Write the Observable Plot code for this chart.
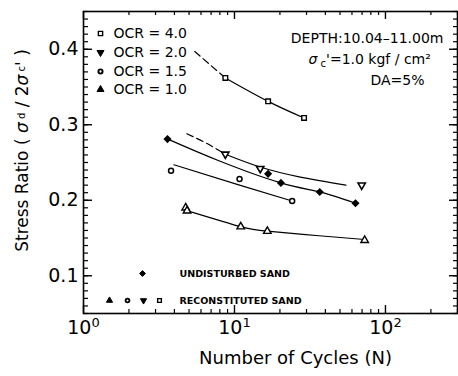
<!DOCTYPE html>
<html><head><meta charset="utf-8">
<script src="https://cdn.jsdelivr.net/npm/d3@7"></script>
<script src="https://cdn.jsdelivr.net/npm/@observablehq/plot@0.6"></script>
<style>body{margin:0;background:#fff}</style>
</head><body><div id="chart"></div>
<script>
// ---------- data ----------
const xTickValues = [1, 10, 100];
const xTickLabels = ["10^0", "10^1", "10^2"];
const yTickValues = [0.1, 0.2, 0.3, 0.4];
const yTickLabels = ["0.1", "0.2", "0.3", "0.4"];

// measured points (Number of cycles N, stress ratio SR)
const ocr40N = [8.7, 16.7, 28.9];
const ocr40SR = [0.362, 0.331, 0.309];
const ocr20N = [8.7, 14.8, 69.6];
const ocr20SR = [0.261, 0.242, 0.220];
const ocr15N = [3.8, 10.8, 24.1];
const ocr15SR = [0.239, 0.228, 0.199];
const ocr10N = [4.75, 4.85, 11.0, 16.5, 72.8];
const ocr10SR = [0.190, 0.186, 0.165, 0.159, 0.147];
const undistN = [3.6, 16.7, 20.3, 36.7, 63.3];
const undistSR = [0.281, 0.235, 0.223, 0.211, 0.196];

// fitted curves
const fit40DashN = [5.46, 6.84, 8.7];
const fit40DashSR = [0.397, 0.380, 0.362];
const fit40N = [8.7, 16.7, 28.9];
const fit40SR = [0.362, 0.331, 0.309];
const fit20DashN = [4.83, 6.45, 8.7];
const fit20DashSR = [0.288, 0.276, 0.261];
const fit20N = [8.7, 14.8, 26.8, 54.7];
const fit20SR = [0.261, 0.244, 0.231, 0.220];
const fitUndN = [3.62, 7.96, 20.3, 36.7, 63.3];
const fitUndSR = [0.281, 0.252, 0.223, 0.211, 0.196];
const fit15N = [3.97, 10.8, 24.1];
const fit15SR = [0.247, 0.220, 0.199];
const fit10N = [4.9, 11.0, 16.5, 36.3, 72.8];
const fit10SR = [0.186, 0.165, 0.159, 0.153, 0.148];

const legendLabels = ["OCR = 4.0", "OCR = 2.0", "OCR = 1.5", "OCR = 1.0"];
const bottomLegend = ["UNDISTURBED SAND", "RECONSTITUTED SAND"];
const annot = ["DEPTH:10.04–11.00m", "σc'=1.0 kgf / cm²", "DA=5%"];
const xLabel = "Number of Cycles (N)";
const yLabel = "Stress Ratio (σd/2σc')";

// ---------- helpers ----------
const pts = (N, SR) => N.map((n, i) => ({N: n, SR: SR[i]}));
const FONT = "DejaVu Sans";
const W = 458, H = 376, mL = 83, mR = 1, mT = 11, mB = 63;
const ih = H - mT - mB, iw = W - mL - mR;

const triDown = {draw(context, size) {
  const s3 = Math.sqrt(3);
  const y = -Math.sqrt(size / (s3 * 3));
  context.moveTo(0, -y * 2);
  context.lineTo(-s3 * y, y);
  context.lineTo(s3 * y, y);
  context.closePath();
}};

const xMinor = [];
for (const d of [1, 10, 100]) for (let k = 2; k <= 9; k++) if (k * d <= 300) xMinor.push(k * d);
const yMinor = d3.range(5, 46).map(i => i / 100);

const lineOpts = {x: "N", y: "SR", curve: "natural", stroke: "black", strokeWidth: 1.2};
const dotOpen = {x: "N", y: "SR", stroke: "black", fill: "white", strokeWidth: 1.4};

// legend rows (top-left)
const legendSymbols = [
  {symbol: "square", fill: "white", r: 2.4, sw: 1.4},
  {symbol: triDown, fill: "black", r: 2.6, sw: 1},
  {symbol: "circle", fill: "white", r: 2.1, sw: 1.9},
  {symbol: "triangle", fill: "black", r: 2.6, sw: 1}
];
const legendDy = [22, 41, 60, 78];
const legendMarks = legendLabels.flatMap((lab, i) => [
  Plot.dot([lab], {frameAnchor: "top-left", dx: 17, dy: legendDy[i], symbol: legendSymbols[i].symbol,
    r: legendSymbols[i].r, fill: legendSymbols[i].fill, stroke: "black", strokeWidth: legendSymbols[i].sw}),
  Plot.text([lab], {frameAnchor: "top-left", dx: 30, dy: legendDy[i], text: d => d, textAnchor: "start",
    lineAnchor: "middle", fontSize: 14, fontFamily: FONT, fill: "black"})
]);

// bottom legend
const bl = [
  {dx: 59, dy: -40, symbol: "diamond2", fill: "black", r: 2.6, sw: 1},
  {dx: 26, dy: -13, symbol: "triangle", fill: "black", r: 2.3, sw: 1},
  {dx: 44, dy: -13, symbol: "circle", fill: "white", r: 1.9, sw: 1.8},
  {dx: 60, dy: -13, symbol: triDown, fill: "black", r: 2.3, sw: 1},
  {dx: 76, dy: -13, symbol: "square", fill: "white", r: 2.1, sw: 1.4}
];
const bottomLegendMarks = [
  ...bl.map(s => Plot.dot([0], {frameAnchor: "bottom-left", dx: s.dx, dy: s.dy, symbol: s.symbol, r: s.r,
    fill: s.fill, stroke: "black", strokeWidth: s.sw})),
  ...bottomLegend.map((t, i) => Plot.text([t], {frameAnchor: "bottom-left", dx: 96, dy: i === 0 ? -40 : -13,
    text: d => d, textAnchor: "start", lineAnchor: "middle", fontSize: 9.5, fontWeight: "bold", fontFamily: FONT}))
];

const chart = Plot.plot({
  width: W, height: H,
  marginLeft: mL, marginRight: mR, marginTop: mT, marginBottom: mB,
  style: {fontFamily: FONT, background: "white", color: "black"},
  x: {type: "log", domain: [1, 300], axis: null},
  y: {domain: [0.05, 0.45], axis: null},
  marks: [
    // axes tick labels
    Plot.axisX(xTickValues, {anchor: "bottom", tickSize: 0, tickPadding: 7, fontSize: 19, fontFamily: FONT,
      tickFormat: d => xTickLabels[xTickValues.indexOf(d)], label: null}),
    Plot.axisY(yTickValues, {anchor: "left", tickSize: 0, tickPadding: 5, fontSize: 19, fontFamily: FONT,
      tickFormat: d => yTickLabels[yTickValues.indexOf(d)], label: null}),
    // inward ticks
    Plot.tickX(xMinor, {x: d => d, insetTop: ih - 4, stroke: "black", strokeWidth: 1.2}),
    Plot.tickX(xTickValues, {x: d => d, insetTop: ih - 8, stroke: "black", strokeWidth: 1.4}),
    Plot.tickX(xMinor, {x: d => d, insetBottom: ih - 4, stroke: "black", strokeWidth: 1.2}),
    Plot.tickX(xTickValues, {x: d => d, insetBottom: ih - 8, stroke: "black", strokeWidth: 1.4}),
    Plot.tickY(yMinor, {y: d => d, insetRight: iw - 5, stroke: "black", strokeWidth: 1.2}),
    Plot.tickY(yTickValues, {y: d => d, insetRight: iw - 9, stroke: "black", strokeWidth: 1.4}),
    Plot.tickY(yMinor, {y: d => d, insetLeft: iw - 4, stroke: "black", strokeWidth: 1.2}),
    Plot.tickY(yTickValues, {y: d => d, insetLeft: iw - 8, stroke: "black", strokeWidth: 1.4}),
    Plot.frame({stroke: "black", strokeWidth: 1.6}),
    // fitted curves
    Plot.line(pts(fit40DashN, fit40DashSR), {...lineOpts, strokeDasharray: "7,4"}),
    Plot.line(pts(fit40N, fit40SR), lineOpts),
    Plot.line(pts(fit20DashN, fit20DashSR), {...lineOpts, strokeDasharray: "7,4"}),
    Plot.line(pts(fit20N, fit20SR), lineOpts),
    Plot.line(pts(fitUndN, fitUndSR), lineOpts),
    Plot.line(pts(fit15N, fit15SR), lineOpts),
    Plot.line(pts(fit10N, fit10SR), lineOpts),
    // points
    Plot.dot(pts(ocr40N, ocr40SR), {...dotOpen, symbol: "square", r: 2.6}),
    Plot.dot(pts(ocr20N, ocr20SR), {...dotOpen, symbol: triDown, r: 2.7, strokeWidth: 1.6}),
    Plot.dot(pts(ocr15N, ocr15SR), {...dotOpen, symbol: "circle", r: 2.5, strokeWidth: 1.5}),
    Plot.dot(pts(ocr10N, ocr10SR), {...dotOpen, symbol: "triangle", r: 2.8}),
    Plot.dot(pts(undistN, undistSR), {x: "N", y: "SR", symbol: "diamond2", r: 2.7, fill: "black", stroke: "black"}),
    // legends
    ...legendMarks,
    ...bottomLegendMarks,
    // annotations
    Plot.text([annot[0]], {frameAnchor: "top-right", dx: -14, dy: 27, text: d => d, textAnchor: "end",
      lineAnchor: "middle", fontSize: 14, fontFamily: FONT}),
    Plot.text([annot[1]], {frameAnchor: "top-right", dx: -149, dy: 48, text: d => d, textAnchor: "start",
      lineAnchor: "middle", fontSize: 14, fontFamily: FONT}),
    Plot.text([annot[2]], {frameAnchor: "top-right", dx: -87, dy: 69, text: d => d, textAnchor: "start",
      lineAnchor: "middle", fontSize: 14, fontFamily: FONT}),
    // axis titles
    Plot.text([xLabel], {frameAnchor: "bottom", dx: 25, dy: 45, text: d => d, textAnchor: "middle",
      lineAnchor: "middle", fontSize: 18, fontFamily: FONT}),
    Plot.text([yLabel], {frameAnchor: "left", dx: -61, dy: -12, rotate: -90, text: d => d, textAnchor: "middle",
      lineAnchor: "middle", fontSize: 17, fontFamily: FONT})
  ]
});
document.getElementById("chart").appendChild(chart);

// rich text for Greek symbols and sub/superscripts
const svg = d3.select(chart);
const setParts = (el, parts) => {
  el.text("");
  for (const [s, a] of parts) { const ts = el.append("tspan").text(s); for (const k in a) ts.attr(k, a[k]); }
};
svg.selectAll("text").each(function() {
  const el = d3.select(this);
  const t = this.textContent;
  if (t === yLabel) {
    setParts(el, [["Stress Ratio ( ", {}], ["σ", {"font-style": "italic"}], [" d", {"font-size": "10px", "baseline-shift": "3px"}],
      [" / 2", {}], ["σ", {"font-style": "italic"}], [" c", {"font-size": "10px", "baseline-shift": "3px"}], ["' )", {}]]);
  } else if (t === annot[1]) {
    setParts(el, [["σ", {"font-style": "italic"}], [" c", {"font-size": "10px", "baseline-shift": "-3px"}],
      ["'=1.0 kgf / cm²", {}]]);
  } else if (xTickLabels.includes(t)) {
    const [base, exp] = t.split("^");
    setParts(el, [[base, {}], [exp, {"font-size": "13px", "baseline-shift": "7px"}]]);
  }
});
</script>
</body></html>
